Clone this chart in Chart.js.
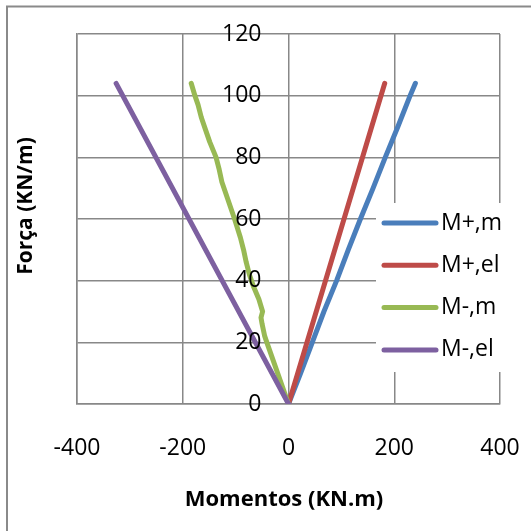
<!DOCTYPE html>
<html>
<head>
<meta charset="utf-8">
<script src="https://cdn.jsdelivr.net/npm/chart.js@4.4.0/dist/chart.umd.min.js"></script>
<style>
  html, body { margin: 0; padding: 0; background: #fff; }
  #wrap { width: 531px; height: 531px; }
</style>
</head>
<body>
<div id="wrap"><canvas id="forceChart" width="531" height="531"></canvas></div>
<script>
// Força x Momento, ramos positivo/negativo, modelo vs elástico
const seriesNames = ['M+,m', 'M+,el', 'M-,m', 'M-,el'];
const seriesColors = ['#4a7ebb', '#be4b48', '#98b954', '#7d60a0'];

const forcePlusM = [0, 10, 20, 30, 40, 50, 60, 70, 80, 90, 100, 104];
const momentPlusM = [0, 23, 45, 67, 91, 113, 136, 160, 183, 207, 230, 240];

const forcePlusEl = [0, 104];
const momentPlusEl = [0, 182];

const forceMinusM = [0, 20, 22, 26, 28, 30, 34, 38, 42, 46, 50, 54, 60, 66, 72, 76, 80, 85, 89, 93, 97, 100, 104];
const momentMinusM = [0, -41, -45, -50, -52, -49, -56, -66, -74, -80, -85, -91, -102, -114, -126, -131, -137, -149, -157, -165, -171, -177, -184];

const forceMinusEl = [0, 104];
const momentMinusEl = [0, -326];

const xTitle = 'Momentos (KN.m)';
const yTitle = 'Força (KN/m)';

const tickFont = '23px "Open Sans"';
const xTitleFont = 'bold 22px "Open Sans"';
const yTitleFont = 'bold 21px "Open Sans"';
const gridColor = '#888888';

function toPoints(moments, forces) {
   return moments.map((m, i) => ({ x: m, y: forces[i] }));
}

const seriesData = [
   toPoints(momentPlusM, forcePlusM),
   toPoints(momentPlusEl, forcePlusEl),
   toPoints(momentMinusM, forceMinusM),
   toPoints(momentMinusEl, forceMinusEl),
];

// frame, tick labels (y ones sit beside x = 0), titles and legend box
const decorPlugin = {
   id: 'decor',
   beforeDraw(chart) {
      const ctx = chart.ctx;
      ctx.save();
      ctx.fillStyle = '#fff';
      ctx.fillRect(0, 0, chart.width, chart.height);
      ctx.strokeStyle = '#8a8a8a';
      ctx.lineWidth = 2;
      ctx.strokeRect(7, 6.5, 700, 700);
      ctx.restore();
   },
   afterDatasetsDraw(chart) {
      const ctx = chart.ctx;
      const yScale = chart.scales.y;
      const xScale = chart.scales.x;
      const zeroX = xScale.getPixelForValue(0);
      ctx.save();

      ctx.font = tickFont;
      ctx.fillStyle = '#000';
      ctx.textBaseline = 'middle';
      ctx.textAlign = 'right';
      yScale.ticks.forEach(t => {
         ctx.fillText(String(t.value), zeroX - 27, yScale.getPixelForValue(t.value));
      });
      ctx.textAlign = 'center';
      xScale.ticks.forEach(t => {
         ctx.fillText(String(t.value), xScale.getPixelForValue(t.value), chart.chartArea.bottom + 44);
      });

      // legend
      ctx.fillStyle = '#fff';
      ctx.fillRect(376, 203, 140, 169);
      chart.data.datasets.forEach((ds, i) => {
         const y = 223 + i * 42.3;
         ctx.strokeStyle = ds.borderColor;
         ctx.lineWidth = 5;
         ctx.lineCap = 'round';
         ctx.beginPath();
         ctx.moveTo(384, y);
         ctx.lineTo(436, y);
         ctx.stroke();
         ctx.fillStyle = '#000';
         ctx.textAlign = 'left';
         ctx.fillText(ds.label, 441, y);
      });

      // axis titles
      ctx.textAlign = 'center';
      ctx.font = xTitleFont;
      ctx.fillText(xTitle, 284, 500);
      ctx.font = yTitleFont;
      ctx.translate(26, 206);
      ctx.rotate(-Math.PI / 2);
      ctx.fillText(yTitle, 0, 0);
      ctx.restore();
   }
};

new Chart(document.getElementById('forceChart'), {
   type: 'scatter',
   data: {
      datasets: seriesNames.map((name, i) => ({
         label: name,
         data: seriesData[i],
         showLine: true,
         borderColor: seriesColors[i],
         backgroundColor: seriesColors[i],
         borderWidth: 5,
         borderCapStyle: 'round',
         borderJoinStyle: 'round',
         pointRadius: 0,
         order: 4 - i,
      })),
   },
   options: {
      responsive: false,
      animation: false,
      layout: { padding: { left: 0, top: 34, right: 31, bottom: 0 } },
      plugins: {
         legend: { display: false },
         tooltip: { enabled: false },
      },
      scales: {
         x: {
            type: 'linear',
            min: -400,
            max: 400,
            ticks: { stepSize: 200, display: false },
            grid: { color: gridColor, lineWidth: 1.5, drawTicks: false },
            border: { color: gridColor, width: 1.5 },
            afterFit: s => { s.height = 127; },
         },
         y: {
            type: 'linear',
            min: 0,
            max: 120,
            ticks: { stepSize: 20, display: false },
            grid: { color: gridColor, lineWidth: 1.5, drawTicks: false },
            border: { color: gridColor, width: 1.5 },
            afterFit: s => { s.width = 77; },
         },
      },
   },
   plugins: [decorPlugin],
});
</script>
</body>
</html>
